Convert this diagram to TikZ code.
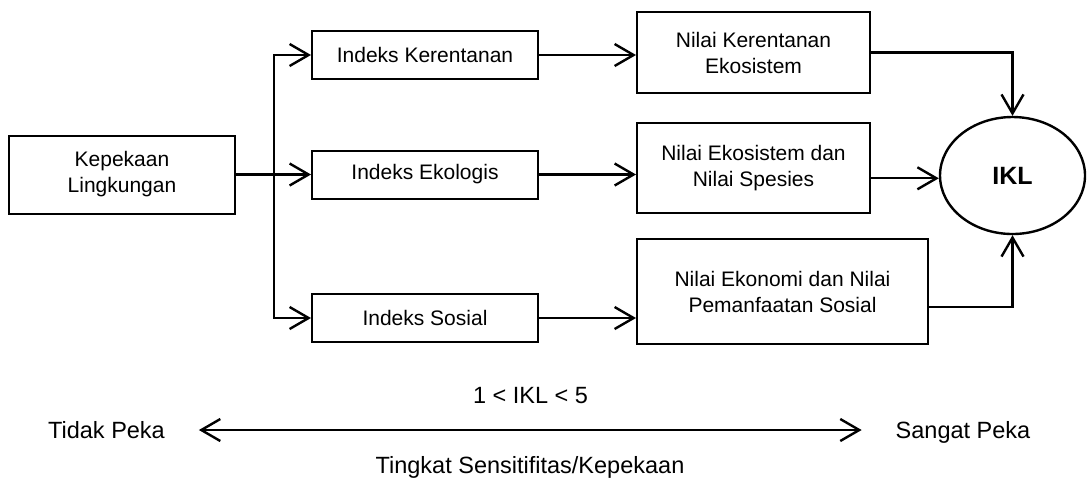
\documentclass[tikz,border=0pt]{standalone}
\usepackage{fontspec}
\setmainfont{Liberation Sans}
\usetikzlibrary{arrows.meta,shapes.geometric}

\begin{document}
\begin{tikzpicture}[x=0.5pt, y=-0.5pt,
    box/.style={draw, line width=1pt, align=center, inner sep=0pt,
      font=\fontsize{10.5}{13}\selectfont},
    arr/.style={-{Straight Barb[length=9.5pt,width=11pt]}, line width=1.2pt},
    both/.style={{Straight Barb[length=9.5pt,width=11pt]}-{Straight Barb[length=9.5pt,width=11pt]}, line width=1.2pt},
    lbl/.style={font=\fontsize{11.75}{14}\selectfont, text height=8.4pt, text depth=0pt}]
  \useasboundingbox[fill=white] (0,0) rectangle (1092,479);

  % left column
  \node[box, minimum width=113pt, minimum height=39pt] (kep) at (122,174.5) {Kepekaan\\Lingkungan};
  \coordinate (br) at (274,174.5);

  % index boxes
  \node[box, minimum width=113pt, minimum height=24pt] (ik) at (425,55) {Indeks Kerentanan};
  \node[box, minimum width=113pt, minimum height=24pt] (ie) at (425,174.5) {Indeks Ekologis};
  \node[box, minimum width=113pt, minimum height=24pt] (is) at (425,318) {Indeks Sosial};

  % value boxes
  \node[box, minimum width=116.5pt, minimum height=40.5pt] (nk) at (753.5,52.5) {Nilai Kerentanan\\Ekosistem};
  \node[box, minimum width=116.5pt, minimum height=45pt] (ne) at (753.5,168) {Nilai Ekosistem dan\\Nilai Spesies};
  \node[box, minimum width=145.5pt, minimum height=52.5pt] (nek) at (782.5,291.5) {Nilai Ekonomi dan Nilai\\Pemanfaatan Sosial};

  \node[draw, ellipse, line width=1.2pt, inner sep=0pt, minimum width=72.5pt, minimum height=58.5pt,
    font=\fontsize{12.5}{15}\selectfont\bfseries] (ikl) at (1012.5,175.5) {IKL};

  \draw[arr] (kep) -- (ie);
  \draw[arr] (is.west -| br) |- (ik.west);
  \draw[arr] (ik.west -| br) |- (is.west);

  \draw[arr] (ik.east) -- (ik.east -| nk.west);
  \draw[arr] (ie.east) -- (ie.east -| ne.west);
  \draw[arr] (is.east) -- (is.east -| nek.west);

  \draw[arr] (nk.east) -| (ikl.north);
  \draw[arr] (ne.-5) -- (ne.-5 -| ikl.west);
  \draw[arr] (nek.-6) -| (ikl.south);

  % scale
  \node[lbl] (tidak) at (106.5,430) {Tidak Peka};
  \node[lbl] (sangat) at (963,430) {Sangat Peka};
  \node[lbl] (rentang) at (530.5,395) {1 < IKL < 5};
  \node[lbl] (tingkat) at (530,465) {Tingkat Sensitifitas/Kepekaan};
  \draw[both, shorten <=13.5pt, shorten >=13.5pt] (tidak) -- (sangat);
\end{tikzpicture}
\end{document}
